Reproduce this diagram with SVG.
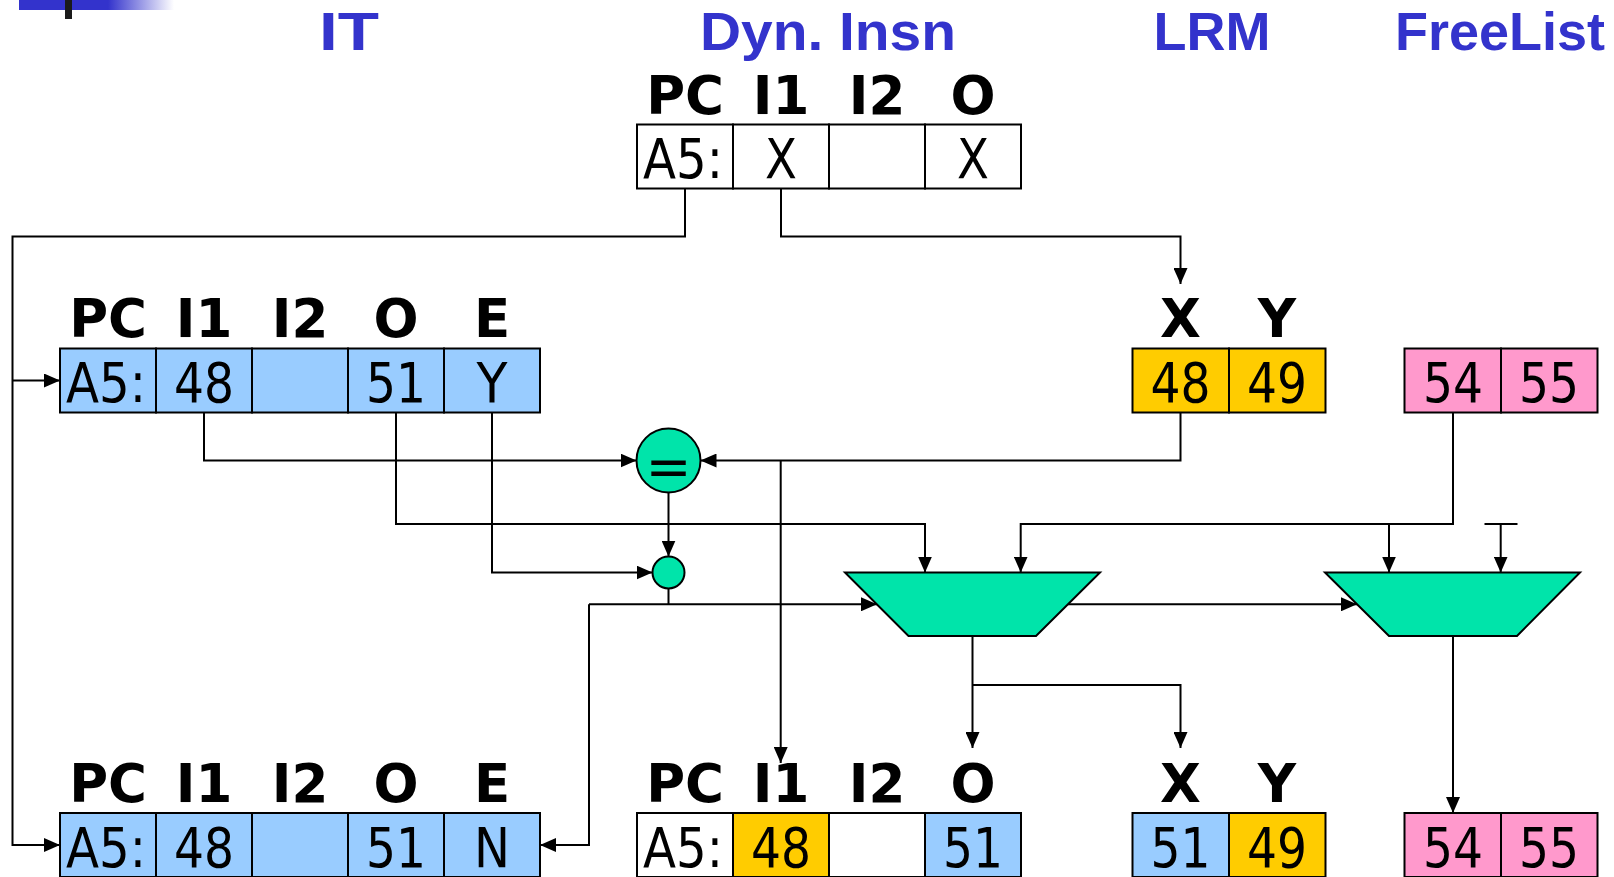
<svg xmlns="http://www.w3.org/2000/svg" width="1614" height="877" viewBox="0 0 1614 877">
<defs>
<linearGradient id="fade" x1="0" y1="0" x2="1" y2="0">
<stop offset="0" stop-color="#3333CC"/>
<stop offset="1" stop-color="#3333CC" stop-opacity="0"/>
</linearGradient>
<marker id="arr" markerUnits="userSpaceOnUse" markerWidth="16" markerHeight="14" viewBox="0 0 16 14" refX="16" refY="7" orient="auto">
<path d="M0,0 L16,7 L0,14 z" fill="#000"/>
</marker>
<style>
.title{font-family:"Liberation Sans","DejaVu Sans",sans-serif;font-weight:bold;font-size:54px;fill:#3333CC;text-anchor:middle}
.hdr{font-family:"DejaVu Sans","Liberation Sans",sans-serif;font-weight:bold;font-size:53px;fill:#000;text-anchor:middle}
.val{font-family:"DejaVu Sans","Liberation Sans",sans-serif;font-size:55px;fill:#000;text-anchor:middle}
.cell{stroke:#000;stroke-width:2}
.w{fill:#FFFFFF}
.b{fill:#99CCFF}
.g{fill:#FFCC00}
.p{fill:#FF99CC}
.grn{fill:#00E4AA;stroke:#000;stroke-width:2}
.wire{fill:none;stroke:#000;stroke-width:2}
.arrow{fill:none;stroke:#000;stroke-width:2;marker-end:url(#arr)}
</style>
</defs>
<rect width="1614" height="877" fill="#fff"/>
<g id="decor">
<rect x="19" y="0" width="89" height="10" fill="#3333CC"/>
<rect x="108" y="0" width="66" height="10" fill="url(#fade)"/>
<rect x="65" y="0" width="7" height="19" fill="#1a1a1a"/>
</g>
<g id="titles">
<text class="title" x="349" y="50" textLength="60" lengthAdjust="spacingAndGlyphs">IT</text>
<text class="title" x="828" y="50" textLength="256" lengthAdjust="spacingAndGlyphs">Dyn. Insn</text>
<text class="title" x="1212" y="50">LRM</text>
<text class="title" x="1500" y="50">FreeList</text>
</g>
<g id="connectors">
<path class="arrow" d="M685,188.5 V236.5 H12.5 V845 H60"/>
<path class="arrow" d="M12.5,380.5 H60"/>
<path class="arrow" d="M781,188.5 V236.5 H1180.5 V284"/>
<path class="arrow" d="M204,412.5 V460.5 H636.5"/>
<path class="arrow" d="M1180.5,412.5 V460.5 H700.5"/>
<path class="arrow" d="M780.7,460.5 V763"/>
<path class="arrow" d="M668.5,492.5 V556.5"/>
<path class="arrow" d="M396,412.5 V524 H925 V572.5"/>
<path class="arrow" d="M1453,412.5 V524 H1020.7 V572.5"/>
<path class="arrow" d="M1389,524 V572.5"/>
<path class="wire" d="M1484.5,524 H1517.5"/>
<path class="arrow" d="M1500.7,524 V572.5"/>
<path class="arrow" d="M492,412.5 V572.5 H652.5"/>
<path class="wire" d="M668.5,588.5 V604.3"/>
<path class="arrow" d="M589,604.3 H877"/>
<path class="arrow" d="M589,604.3 V845 H540"/>
<path class="arrow" d="M1068,604.3 H1357"/>
<path class="arrow" d="M972.5,636 V748"/>
<path class="arrow" d="M972.5,685 H1180.5 V748"/>
<path class="arrow" d="M1453,636 V813"/>
</g>
<g id="dyn-top">
<rect class="cell w" x="637" y="124.5" width="96" height="64"/>
<rect class="cell w" x="733" y="124.5" width="96" height="64"/>
<rect class="cell w" x="829" y="124.5" width="96" height="64"/>
<rect class="cell w" x="925" y="124.5" width="96" height="64"/>
<text class="hdr" x="685" y="113.5">PC</text>
<text class="hdr" x="781" y="113.5">I1</text>
<text class="hdr" x="877" y="113.5">I2</text>
<text class="hdr" x="973" y="113.5">O</text>
<text class="val" x="683" y="178" textLength="80" lengthAdjust="spacingAndGlyphs">A5:</text>
<text class="val" x="781" y="178" textLength="32" lengthAdjust="spacingAndGlyphs">X</text>
<text class="val" x="973" y="178" textLength="32" lengthAdjust="spacingAndGlyphs">X</text>
</g>
<g id="it-top">
<rect class="cell b" x="60" y="348.5" width="96" height="64"/>
<rect class="cell b" x="156" y="348.5" width="96" height="64"/>
<rect class="cell b" x="252" y="348.5" width="96" height="64"/>
<rect class="cell b" x="348" y="348.5" width="96" height="64"/>
<rect class="cell b" x="444" y="348.5" width="96" height="64"/>
<text class="hdr" x="108" y="337">PC</text>
<text class="hdr" x="204" y="337">I1</text>
<text class="hdr" x="300" y="337">I2</text>
<text class="hdr" x="396" y="337">O</text>
<text class="hdr" x="492" y="337">E</text>
<text class="val" x="106" y="402" textLength="80" lengthAdjust="spacingAndGlyphs">A5:</text>
<text class="val" x="204" y="402" textLength="60" lengthAdjust="spacingAndGlyphs">48</text>
<text class="val" x="396" y="402" textLength="60" lengthAdjust="spacingAndGlyphs">51</text>
<text class="val" x="492" y="402" textLength="31" lengthAdjust="spacingAndGlyphs">Y</text>
</g>
<g id="lrm-top">
<rect class="cell g" x="1132.5" y="348.5" width="96.5" height="64"/>
<rect class="cell g" x="1229" y="348.5" width="96.5" height="64"/>
<text class="hdr" x="1180.5" y="337">X</text>
<text class="hdr" x="1277" y="337">Y</text>
<text class="val" x="1180.5" y="402" textLength="60" lengthAdjust="spacingAndGlyphs">48</text>
<text class="val" x="1277" y="402" textLength="60" lengthAdjust="spacingAndGlyphs">49</text>
</g>
<g id="freelist-top">
<rect class="cell p" x="1404.5" y="348.5" width="96.5" height="64"/>
<rect class="cell p" x="1501" y="348.5" width="96.5" height="64"/>
<text class="val" x="1453" y="402" textLength="60" lengthAdjust="spacingAndGlyphs">54</text>
<text class="val" x="1549" y="402" textLength="60" lengthAdjust="spacingAndGlyphs">55</text>
</g>
<g id="compare">
<circle class="grn" cx="668.5" cy="460.5" r="32"/>
<text class="val" x="668.5" y="486" font-size="54">=</text>
</g>
<g id="and-gate">
<circle class="grn" cx="668.5" cy="572.5" r="16"/>
</g>
<g id="mux1">
<polygon class="grn" points="845,572.5 1100,572.5 1036,636 908.5,636"/>
</g>
<g id="mux2">
<polygon class="grn" points="1325,572.5 1580,572.5 1517,636 1389,636"/>
</g>
<g id="it-bottom">
<rect class="cell b" x="60" y="813" width="96" height="64"/>
<rect class="cell b" x="156" y="813" width="96" height="64"/>
<rect class="cell b" x="252" y="813" width="96" height="64"/>
<rect class="cell b" x="348" y="813" width="96" height="64"/>
<rect class="cell b" x="444" y="813" width="96" height="64"/>
<text class="hdr" x="108" y="801.5">PC</text>
<text class="hdr" x="204" y="801.5">I1</text>
<text class="hdr" x="300" y="801.5">I2</text>
<text class="hdr" x="396" y="801.5">O</text>
<text class="hdr" x="492" y="801.5">E</text>
<text class="val" x="106" y="866.5" textLength="80" lengthAdjust="spacingAndGlyphs">A5:</text>
<text class="val" x="204" y="866.5" textLength="60" lengthAdjust="spacingAndGlyphs">48</text>
<text class="val" x="396" y="866.5" textLength="60" lengthAdjust="spacingAndGlyphs">51</text>
<text class="val" x="492" y="866.5" textLength="36" lengthAdjust="spacingAndGlyphs">N</text>
</g>
<g id="dyn-bottom">
<rect class="cell w" x="637" y="813" width="96" height="64"/>
<rect class="cell g" x="733" y="813" width="96" height="64"/>
<rect class="cell w" x="829" y="813" width="96" height="64"/>
<rect class="cell b" x="925" y="813" width="96" height="64"/>
<text class="hdr" x="685" y="801.5">PC</text>
<text class="hdr" x="781" y="801.5">I1</text>
<text class="hdr" x="877" y="801.5">I2</text>
<text class="hdr" x="973" y="801.5">O</text>
<text class="val" x="683" y="866.5" textLength="80" lengthAdjust="spacingAndGlyphs">A5:</text>
<text class="val" x="781" y="866.5" textLength="60" lengthAdjust="spacingAndGlyphs">48</text>
<text class="val" x="973" y="866.5" textLength="60" lengthAdjust="spacingAndGlyphs">51</text>
</g>
<g id="lrm-bottom">
<rect class="cell b" x="1132.5" y="813" width="96.5" height="64"/>
<rect class="cell g" x="1229" y="813" width="96.5" height="64"/>
<text class="hdr" x="1180.5" y="801.5">X</text>
<text class="hdr" x="1277" y="801.5">Y</text>
<text class="val" x="1180.5" y="866.5" textLength="60" lengthAdjust="spacingAndGlyphs">51</text>
<text class="val" x="1277" y="866.5" textLength="60" lengthAdjust="spacingAndGlyphs">49</text>
</g>
<g id="freelist-bottom">
<rect class="cell p" x="1404.5" y="813" width="96.5" height="64"/>
<rect class="cell p" x="1501" y="813" width="96.5" height="64"/>
<text class="val" x="1453" y="866.5" textLength="60" lengthAdjust="spacingAndGlyphs">54</text>
<text class="val" x="1549" y="866.5" textLength="60" lengthAdjust="spacingAndGlyphs">55</text>
</g>
</svg>
